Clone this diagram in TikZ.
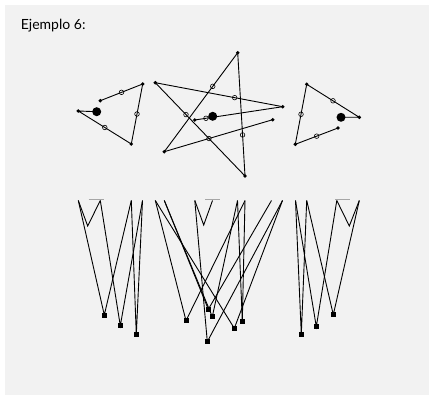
\documentclass[tikz,border=0pt]{standalone}
\usepackage{fontspec}
\setmainfont{Lato}
\usepackage{tikz}
\usetikzlibrary{positioning}

\begin{document}
\begin{tikzpicture}[x=1pt,y=-1pt,
  dot/.style={circle,fill=black,inner sep=0pt,minimum size=3.8pt},
  bigdot/.style={circle,fill=black,inner sep=0pt,minimum size=9pt},
  ring/.style={circle,draw=black,line width=0.6pt,inner sep=0pt,minimum size=4.6pt},
  sq/.style={rectangle,fill=black,inner sep=0pt,minimum size=5pt},
  wire/.style={line width=0.9pt},
  bar/.style={draw=black!35,line width=0.9pt}]
  \useasboundingbox (0,0) rectangle (430,398);
  % panel
  \fill[black!5] (5,5) rectangle (429,395);
  \node[anchor=base west,inner sep=0pt,font=\fontsize{14}{16}\selectfont] (title) at (20.7,30) {Ejemplo 6:};

  % first shape (triangle, big dot on the left)
  \node[dot] (a1) at (100.3,100.7) {};
  \node[dot] (a2) at (142.7,84) {};
  \node[dot] (a3) at (131.3,144) {};
  \node[dot] (a4) at (78.3,111) {};
  \node[bigdot] (a5) at (96.7,111.7) {};
  \draw[wire] (a1.center) -- node[ring]{} (a2.center) -- node[ring]{} (a3.center)
    -- node[ring]{} (a4.center) -- (a5.center);

  % star
  \node[dot] (sT) at (237.7,52.7) {};
  \node[dot] (sL) at (155.3,82.7) {};
  \node[dot] (sR) at (282.7,106.7) {};
  \node[dot] (sBL) at (164.3,151.7) {};
  \node[dot] (sB) at (245,176) {};
  \node[dot] (sDR) at (272.7,119.7) {};
  \node[dot] (sS) at (194.7,120) {};
  \node[bigdot] (sBig) at (212.7,116.3) {};
  \draw[wire] (sT.center) -- node[ring,pos=0.34]{} (sBL.center);
  \draw[wire] (sT.center) -- node[ring,pos=0.667]{} (sB.center);
  \draw[wire] (sL.center) -- node[ring,pos=0.342]{} (sB.center);
  \draw[wire] (sL.center) -- node[ring,pos=0.623]{} (sR.center);
  \draw[wire] (sBL.center) -- node[ring,pos=0.412]{} (sDR.center);
  \draw[wire] (sR.center) -- node[ring,pos=0.872]{} (sS.center);

  % third shape (triangle, big dot on the right)
  \node[bigdot] (c1) at (341,117.3) {};
  \node[dot] (c2) at (359.3,117.3) {};
  \node[dot] (c3) at (306.7,84.3) {};
  \node[dot] (c4) at (295.3,144.3) {};
  \node[dot] (c5) at (338,128) {};
  \draw[wire] (c1.center) -- (c2.center) -- node[ring]{} (c3.center)
    -- node[ring]{} (c4.center) -- node[ring]{} (c5.center);

  % lower part, first group
  \coordinate (ta4) at (78.3,200.5);
  \coordinate (ta1) at (100.3,200.5);
  \coordinate (ta3) at (131.3,200.5);
  \coordinate (ta2) at (142.5,200.5);
  \coordinate (va) at (87.7,226);
  \node[sq] (qa1) at (104.3,315) {};
  \node[sq] (qa2) at (120.3,325.7) {};
  \node[sq] (qa3) at (136.3,334.7) {};
  \draw[bar] (88.5,199.3) -- (103.5,199.3);
  \draw[wire] (ta4) -- (va) -- (ta1);
  \draw[wire] (ta4) -- (qa1.center) -- (ta3);
  \draw[wire] (ta1) -- (qa2.center) -- (ta2);
  \draw[wire] (ta3) -- (qa3.center) -- (ta2);

  % lower part, star group
  \coordinate (tL) at (155.3,200.5);
  \coordinate (tBL) at (164.3,200.5);
  \coordinate (tS) at (194.8,200.5);
  \coordinate (tBig) at (212.5,200.5);
  \coordinate (tT) at (237.5,200.5);
  \coordinate (tB) at (245,200.5);
  \coordinate (tDR) at (271.5,200.5);
  \coordinate (tR) at (282.5,200.5);
  \coordinate (vs) at (203.7,225);
  \node[sq] (qs1) at (186,320.7) {};
  \node[sq] (qs2) at (212.3,316.7) {};
  \node[sq] (qs3) at (242.3,321.7) {};
  \node[sq] (qs4) at (234.3,328.3) {};
  \node[sq] (qs5) at (208.3,309.3) {};
  \node[sq] (qs6) at (207.3,341.7) {};
  \draw[bar] (205,199.3) -- (220,199.3);
  \draw[wire] (tS) -- (vs) -- (tBig);
  \draw[wire] (tL) -- (qs1.center) -- (tB);
  \draw[wire] (tT) -- (qs2.center) -- (tBL);
  \draw[wire] (tT) -- (qs3.center) -- (tB);
  \draw[wire] (tL) -- (qs4.center) -- (tR);
  \draw[wire] (tBL) -- (qs5.center) -- (tDR);
  \draw[wire] (tR) -- (qs6.center) -- (tS);

  % lower part, third group
  \coordinate (tc4) at (295.5,200.5);
  \coordinate (tc3) at (306.7,200.5);
  \coordinate (tc5) at (336.8,200.5);
  \coordinate (tc2) at (359.3,200.5);
  \coordinate (vc) at (349.3,226);
  \node[sq] (qc1) at (301.3,334.3) {};
  \node[sq] (qc2) at (316.3,326.7) {};
  \node[sq] (qc3) at (333.3,314.7) {};
  \draw[bar] (335,199.3) -- (349.5,199.3);
  \draw[wire] (tc5) -- (vc) -- (tc2);
  \draw[wire] (tc4) -- (qc1.center) -- (tc3);
  \draw[wire] (tc4) -- (qc2.center) -- (tc5);
  \draw[wire] (tc3) -- (qc3.center) -- (tc2);
\end{tikzpicture}
\end{document}
